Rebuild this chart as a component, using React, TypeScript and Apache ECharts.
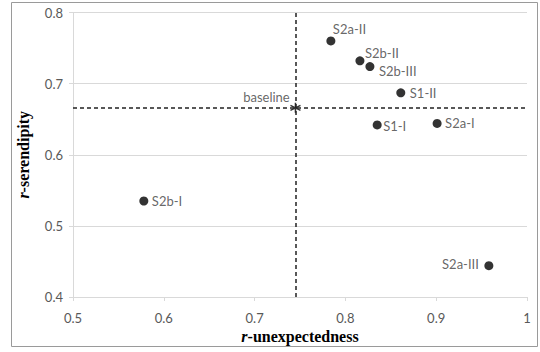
import React, { useEffect, useRef } from "react";
import * as echarts from "echarts";

const pointNames = ["S2a-II", "S2b-II", "S2b-III", "S1-II", "S1-I", "S2a-I", "S2b-I", "S2a-III"];
const unexpectedness = [0.784, 0.816, 0.827, 0.861, 0.835, 0.901, 0.578, 0.958];
const serendipity = [0.76, 0.732, 0.724, 0.687, 0.642, 0.644, 0.535, 0.444];
const baselineName = "baseline";
const baselineX = 0.745;
const baselineY = 0.666;
const xTicks = { min: 0.5, max: 1, interval: 0.1 };
const yTicks = { min: 0.4, max: 0.8, interval: 0.1 };

// label placement: [dx, dy, align] relative to point centre
const labelPlacement: Record<string, [number, number, string]> = {
  "S2a-II": [2, -12, "left"],
  "S2b-II": [5, -8, "left"],
  "S2b-III": [9, 4, "left"],
  "S1-II": [9, 0, "left"],
  "S1-I": [6, 1, "left"],
  "S2a-I": [8, 0, "left"],
  "S2b-I": [8, 0, "left"],
  "S2a-III": [-10, -2, "right"],
};

const SANS = "Lato";
const SERIF = "Liberation Serif";
const DOT = 9;
const STAR = 10;

export default function App() {
  const ref = useRef<HTMLDivElement>(null);
  useEffect(() => {
    if (!ref.current) return;
    const chart = echarts.init(ref.current, null, { renderer: "svg" });
    const pts = pointNames.map((n, i) => {
      const [dx, dy, align] = labelPlacement[n];
      return {
        name: n,
        value: [unexpectedness[i], serendipity[i]],
        label: {
          show: true,
          formatter: n,
          position: [dx + DOT / 2, dy + DOT / 2],
          align,
          verticalAlign: "middle",
        },
      };
    });
    const axisNameStyle = {
      fontFamily: SERIF,
      fontWeight: "bold",
      fontSize: 16,
      color: "#000",
      rich: {
        i: { fontFamily: SERIF, fontWeight: "bold", fontStyle: "italic", fontSize: 16, color: "#000" },
        n: { fontFamily: SERIF, fontWeight: "bold", fontSize: 16, color: "#000" },
      },
    };
    chart.setOption({
      animation: false,
      grid: { left: 73, right: 13, top: 12.5, bottom: 55, containLabel: false },
      graphic: [
        {
          type: "rect",
          shape: { x: 11.5, y: 2.5, width: 526, height: 344 },
          style: { fill: "none", stroke: "#9a9a9a", lineWidth: 1 },
          silent: true,
          z: -1,
        },
      ],
      xAxis: {
        type: "value",
        min: xTicks.min,
        max: xTicks.max,
        interval: xTicks.interval,
        name: "{i|r}{n|-unexpectedness}",
        nameLocation: "middle",
        nameGap: 27,
        nameTextStyle: axisNameStyle,
        axisLine: { show: true, lineStyle: { color: "#d9d9d9", width: 1 } },
        axisTick: { show: true, length: 4, lineStyle: { color: "#d9d9d9" } },
        axisLabel: { color: "#595959", fontFamily: SANS, fontSize: 13, margin: 14 },
        splitLine: { show: false },
      },
      yAxis: {
        type: "value",
        min: yTicks.min,
        max: yTicks.max,
        interval: yTicks.interval,
        name: "{i|r}{n|-serendipity}",
        nameLocation: "middle",
        nameGap: 42,
        nameTextStyle: axisNameStyle,
        axisLine: { show: true, lineStyle: { color: "#d9d9d9", width: 1 } },
        axisTick: { show: true, length: 4, lineStyle: { color: "#d9d9d9" } },
        axisLabel: { color: "#595959", fontFamily: SANS, fontSize: 13, margin: 10 },
        splitLine: { show: true, lineStyle: { color: "#d9d9d9", width: 1 } },
      },
      series: [
        {
          type: "scatter",
          symbol: "circle",
          symbolSize: DOT,
          itemStyle: { color: "#000" },
          label: { color: "#404040", fontFamily: SANS, fontSize: 13 },
          data: pts,
          z: 3,
        },
        {
          type: "scatter",
          symbol: "path://M0,-5L0,5M-4.3,-2.5L4.3,2.5M-4.3,2.5L4.3,-2.5",
          symbolSize: STAR,
          itemStyle: { color: "transparent", borderColor: "#000", borderWidth: 1.5 },
          label: {
            show: true,
            formatter: baselineName,
            position: [-5 + STAR / 2, -10 + STAR / 2],
            align: "right",
            verticalAlign: "middle",
            color: "#404040",
            fontFamily: SANS,
            fontSize: 13,
          },
          data: [{ name: baselineName, value: [baselineX, baselineY] }],
          markLine: {
            silent: true,
            symbol: "none",
            precision: 6,
            label: { show: false },
            lineStyle: { color: "#222", type: [4, 3], width: 1.5 },
            data: [{ xAxis: baselineX }, { yAxis: baselineY }],
          },
          z: 4,
        },
      ],
    });
    return () => chart.dispose();
  }, []);
  return (
    <div
      ref={ref}
      style={{ position: "absolute", left: 0, top: 0, width: 540, height: 352 }}
    />
  );
}
